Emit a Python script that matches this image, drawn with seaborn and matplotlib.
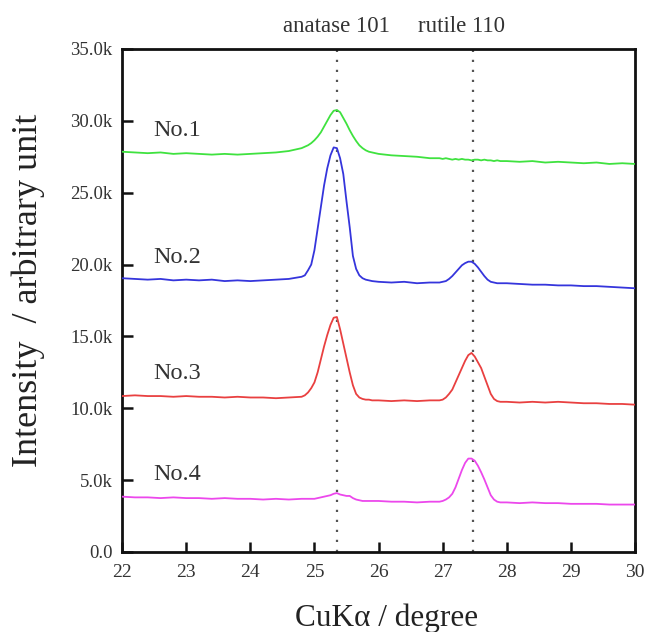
import matplotlib
matplotlib.use("Agg")
import matplotlib.pyplot as plt
import seaborn as sns
import pandas as pd
from matplotlib.ticker import FuncFormatter, MultipleLocator

# ---- data (intensities in thousands of counts) ----
two_theta = [22.0, 22.2, 22.4, 22.6, 22.8, 23.0, 23.2, 23.4, 23.6, 23.8, 24.0, 24.2, 24.4, 24.6, 24.8,
             24.85, 24.9, 24.95, 25.0, 25.05, 25.1, 25.15, 25.2, 25.25, 25.3, 25.35, 25.4, 25.45, 25.5,
             25.55, 25.6, 25.65, 25.7, 25.75, 25.8, 25.85, 25.9,
             26.0, 26.2, 26.4, 26.6, 26.8,
             26.95, 27.0, 27.05, 27.1, 27.15, 27.2, 27.25, 27.3, 27.35, 27.4, 27.45, 27.5, 27.55, 27.6,
             27.65, 27.7, 27.75, 27.8, 27.85, 27.9,
             28.0, 28.2, 28.4, 28.6, 28.8, 29.0, 29.2, 29.4, 29.6, 29.8, 30.0]

no1 = [27.85, 27.8, 27.75, 27.8, 27.7, 27.75, 27.7, 27.65, 27.7, 27.65, 27.7, 27.75, 27.8, 27.9, 28.1,
       28.2, 28.3, 28.45, 28.65, 28.9, 29.2, 29.6, 30.0, 30.4, 30.7, 30.75, 30.6, 30.2, 29.8,
       29.35, 28.95, 28.6, 28.3, 28.1, 27.95, 27.85, 27.8,
       27.7, 27.6, 27.55, 27.5, 27.4,
       27.4, 27.35, 27.4, 27.35, 27.3, 27.35, 27.3, 27.35, 27.3, 27.3, 27.25, 27.3, 27.3, 27.25,
       27.3, 27.25, 27.25, 27.2, 27.25, 27.2,
       27.2, 27.15, 27.2, 27.1, 27.15, 27.1, 27.05, 27.1, 27.0, 27.05, 27.0]

no2 = [19.05, 19.0, 18.95, 19.0, 18.9, 18.95, 18.9, 18.95, 18.85, 18.9, 18.85, 18.9, 18.95, 19.0, 19.15,
       19.25, 19.6, 20.0, 21.0, 22.5, 24.0, 25.5, 26.7, 27.6, 28.15, 28.1, 27.4, 26.3, 24.4,
       22.6, 20.6, 19.7, 19.25, 19.05, 18.95, 18.9, 18.85,
       18.8, 18.75, 18.8, 18.7, 18.75,
       18.75, 18.8, 18.85, 19.0, 19.2, 19.45, 19.7, 19.95, 20.1, 20.2, 20.2, 20.05, 19.8, 19.5,
       19.2, 18.95, 18.8, 18.75, 18.7, 18.7,
       18.7, 18.65, 18.6, 18.6, 18.55, 18.55, 18.5, 18.5, 18.45, 18.4, 18.35]

no3 = [10.85, 10.9, 10.85, 10.85, 10.8, 10.85, 10.8, 10.8, 10.75, 10.8, 10.75, 10.75, 10.7, 10.75, 10.8,
       10.9, 11.1, 11.4, 11.8, 12.5, 13.4, 14.3, 15.1, 15.8, 16.3, 16.35, 15.5, 14.5, 13.5,
       12.5, 11.6, 11.0, 10.75, 10.65, 10.6, 10.6, 10.55,
       10.55, 10.5, 10.55, 10.5, 10.55,
       10.55, 10.6, 10.75, 11.0, 11.3, 11.8, 12.3, 12.8, 13.3, 13.7, 13.85, 13.6, 13.2, 12.8,
       12.2, 11.6, 11.0, 10.65, 10.5, 10.45,
       10.45, 10.4, 10.45, 10.4, 10.45, 10.4, 10.35, 10.35, 10.3, 10.3, 10.25]

no4 = [3.85, 3.8, 3.8, 3.75, 3.8, 3.75, 3.75, 3.7, 3.75, 3.7, 3.7, 3.65, 3.7, 3.65, 3.7,
       3.7, 3.7, 3.7, 3.7, 3.75, 3.8, 3.85, 3.9, 3.95, 4.05, 4.1, 4.0, 3.95, 3.9,
       3.9, 3.75, 3.65, 3.6, 3.55, 3.55, 3.55, 3.55,
       3.55, 3.5, 3.5, 3.45, 3.5,
       3.5, 3.55, 3.65, 3.8, 4.05, 4.5, 5.1, 5.7, 6.2, 6.5, 6.5, 6.35, 6.0, 5.55,
       5.05, 4.5, 3.95, 3.65, 3.5, 3.45,
       3.45, 3.4, 3.45, 3.4, 3.4, 3.35, 3.35, 3.35, 3.3, 3.3, 3.3]

samples = ["No.1", "No.2", "No.3", "No.4"]
series = [no1, no2, no3, no4]
label_y = [29.3, 20.5, 12.4, 5.4]  # thousands
colors = ["#3fe23f", "#3535dc", "#e94040", "#ec48ec"]
peak_pos = [25.35, 27.48]
peak_names = ["anatase 101", "rutile 110"]
peak_label_x = [25.35, 27.30]

rows = []
for name, vals in zip(samples, series):
    for xv, yv in zip(two_theta, vals):
        rows.append({"x": xv, "y": yv * 1000.0, "sample": name})
df = pd.DataFrame(rows)

sns.set_style("ticks")
plt.rcParams["font.family"] = ["Liberation Serif", "DejaVu Serif"]

fig = plt.figure(figsize=(6.46, 6.32), dpi=100)
ax = fig.add_axes([0.189, 0.1266, 0.794, 0.7959])

for px in peak_pos:
    ax.axvline(px, color="#555555", linestyle=(0, (1, 3.5)), linewidth=1.6, zorder=1)

sns.lineplot(data=df, x="x", y="y", hue="sample", palette=colors, estimator=None,
             sort=False, linewidth=1.3, legend=False, ax=ax, zorder=3)

ax.set_xlim(22, 30)
ax.set_ylim(0, 35000)
ax.xaxis.set_major_locator(MultipleLocator(1))
ax.yaxis.set_major_locator(MultipleLocator(5000))
ax.yaxis.set_major_formatter(FuncFormatter(lambda v, p: "0.0" if v == 0 else f"{v/1000:.1f}k"))

for sp in ax.spines.values():
    sp.set_linewidth(2.0)
    sp.set_color("#111111")

ax.tick_params(axis="both", direction="in", width=1.8, color="#111111")
ax.tick_params(axis="y", length=8, labelsize=13.5, labelcolor="#333333", pad=7)
ax.tick_params(axis="x", length=7, labelsize=14, labelcolor="#333333", pad=9)
ax.tick_params(top=False, right=False)

ax.set_xlabel("CuKα / degree", fontsize=22.5, color="#222222")
ax.set_ylabel("Intensity  / arbitrary unit", fontsize=26, color="#222222")
ax.xaxis.set_label_coords(0.515, -0.102)
ax.yaxis.set_label_coords(-0.15, 0.52)

for name, ly in zip(samples, label_y):
    ax.text(22.48, ly * 1000.0, name, fontsize=17.5, color="#333333", ha="left", va="center")

for lx, lab in zip(peak_label_x, peak_names):
    ax.text(lx, 1.045, lab, transform=ax.get_xaxis_transform(), fontsize=16.5,
            color="#333333", ha="center", va="center")

fig.savefig("out.png", dpi=100)
